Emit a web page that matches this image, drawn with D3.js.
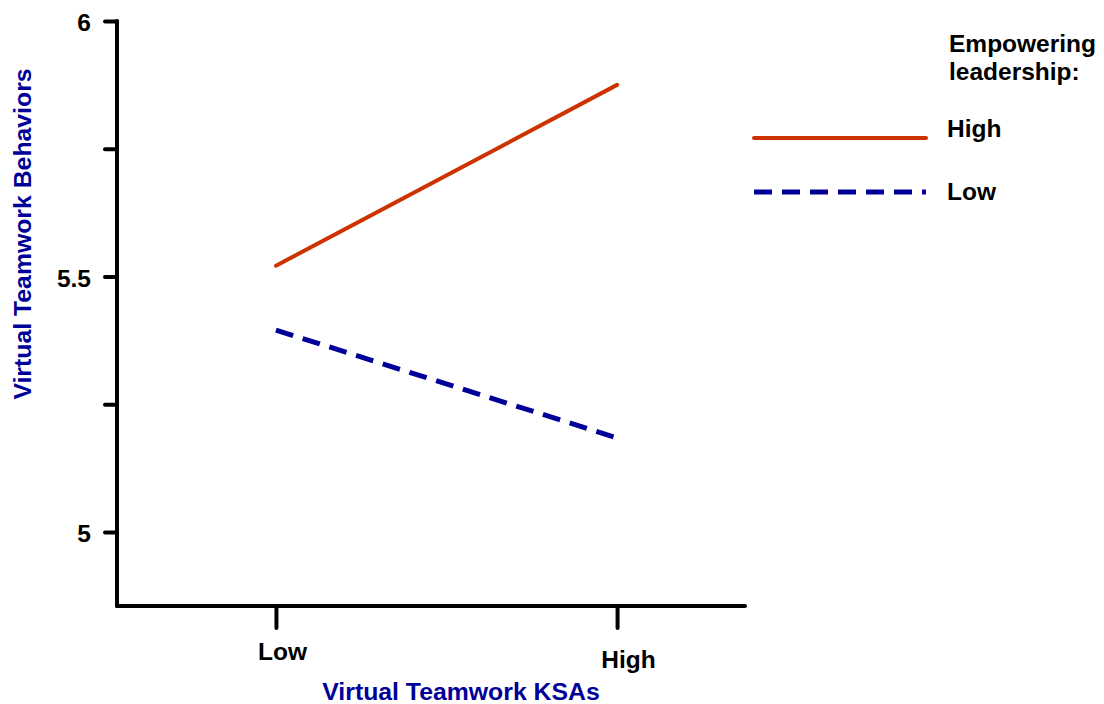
<!DOCTYPE html>
<html>
<head>
<meta charset="utf-8">
<script src="https://cdn.jsdelivr.net/npm/d3@7"></script>
<style>
  body { margin: 0; background: #fff; }
  svg { font-family: "Liberation Sans", Arial, Helvetica, sans-serif; font-weight: bold; }
</style>
</head>
<body>
<svg id="chart" width="1104" height="704"></svg>
<script>
// data
const ksaLevels = ["Low", "High"];
const leadershipGroups = ["High", "Low"];
const highLeadership = [5.521, 5.875];
const lowLeadership = [5.395, 5.184];
const yTickValues = [5, 5.25, 5.5, 5.75, 6];
const yTickLabels = { 5: "5", 5.5: "5.5", 6: "6" };

const series = [
  { name: leadershipGroups[0], values: highLeadership, color: "#cc3300", dash: null },
  { name: leadershipGroups[1], values: lowLeadership, color: "#000099", dash: "18,10" }
];

const svg = d3.select("#chart");

// x: index of KSA level, axis runs past both ends
const x = d3.scaleLinear()
  .domain([-0.466, 1.375])
  .range([117, 745]);

const y = d3.scaleLinear()
  .domain([4.855, 6])
  .range([606, 21]);

// Y axis
const yAxis = svg.append("g")
  .attr("transform", "translate(117,0)")
  .call(d3.axisLeft(y)
    .tickValues(yTickValues)
    .tickSize(12)
    .tickPadding(14)
    .tickFormat(d => yTickLabels[d] || ""));
yAxis.select(".domain")
  .attr("d", `M0,${y(6)}V${y.range()[0]}`)
  .attr("stroke", "#000").attr("stroke-width", 4).attr("stroke-linecap", "round");
yAxis.selectAll(".tick line")
  .attr("stroke", "#000").attr("stroke-width", 4).attr("stroke-linecap", "round");
yAxis.selectAll(".tick text")
  .attr("fill", "#000")
  .attr("font-size", 24.5)
  .attr("font-weight", "bold")
  .attr("font-family", "Liberation Sans, Arial, sans-serif")
  .attr("dy", "0.4em");

// X axis
const xAxis = svg.append("g")
  .attr("transform", "translate(0,606)")
  .call(d3.axisBottom(x)
    .tickValues([0, 1])
    .tickSize(22)
    .tickFormat(i => ksaLevels[i]));
xAxis.select(".domain")
  .attr("d", `M${x.range()[0]},0H${x.range()[1]}`)
  .attr("stroke", "#000").attr("stroke-width", 4).attr("stroke-linecap", "round");
xAxis.selectAll(".tick line")
  .attr("stroke", "#000").attr("stroke-width", 4).attr("stroke-linecap", "round");
const labelShift = [[6, 54], [11, 62]];
xAxis.selectAll(".tick text")
  .attr("fill", "#000")
  .attr("font-size", 24.5)
  .attr("font-weight", "bold")
  .attr("font-family", "Liberation Sans, Arial, sans-serif")
  .attr("dy", null)
  .attr("y", (d, i) => labelShift[i][1])
  .attr("x", (d, i) => labelShift[i][0]);

// lines
const line = d3.line()
  .x((d, i) => x(i))
  .y(d => y(d));

svg.append("g").selectAll("path")
  .data(series)
  .join("path")
  .attr("d", d => line(d.values))
  .attr("fill", "none")
  .attr("stroke", d => d.color)
  .attr("stroke-width", d => d.dash ? 5 : 4)
  .attr("stroke-linecap", d => d.dash ? "butt" : "round")
  .attr("stroke-dasharray", d => d.dash);

// axis titles
svg.append("text")
  .attr("x", 461).attr("y", 700)
  .attr("text-anchor", "middle")
  .attr("font-size", 24.8)
  .attr("fill", "#000099")
  .text("Virtual Teamwork KSAs");

svg.append("text")
  .attr("transform", "translate(31,234) rotate(-90)")
  .attr("text-anchor", "middle")
  .attr("font-size", 24.8)
  .attr("fill", "#000099")
  .text("Virtual Teamwork Behaviors");

// legend
const legend = svg.append("g");
legend.append("text")
  .attr("x", 949).attr("y", 52)
  .attr("font-size", 24.5)
  .text("Empowering");
legend.append("text")
  .attr("x", 949).attr("y", 80)
  .attr("font-size", 24.5)
  .text("leadership:");

const legendRows = [
  { line: 138, text: 137 },
  { line: 192, text: 200 }
];
const item = legend.selectAll("g.item")
  .data(series)
  .join("g").attr("class", "item");
item.append("line")
  .attr("x1", 754).attr("x2", 926)
  .attr("y1", (d, i) => legendRows[i].line)
  .attr("y2", (d, i) => legendRows[i].line)
  .attr("stroke", d => d.color)
  .attr("stroke-width", d => d.dash ? 5 : 4)
  .attr("stroke-linecap", d => d.dash ? "butt" : "round")
  .attr("stroke-dasharray", d => d.dash);
item.append("text")
  .attr("x", 947)
  .attr("y", (d, i) => legendRows[i].text)
  .attr("font-size", 24.5)
  .text(d => d.name);
</script>
</body>
</html>
